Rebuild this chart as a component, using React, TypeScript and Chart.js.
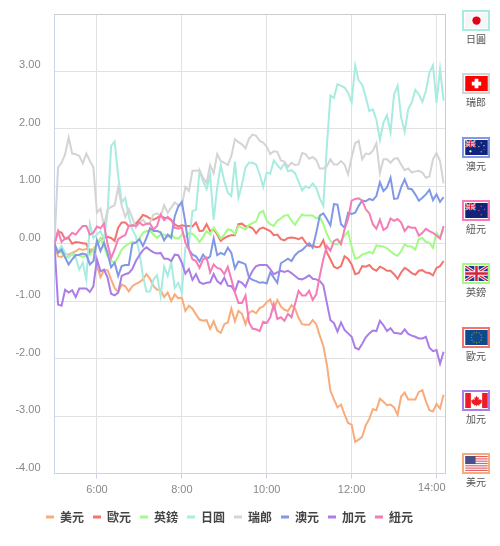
import React, { useEffect, useRef } from "react";
import { Chart, registerables } from "chart.js";

Chart.register(...registerables);

const usd = [
  -0.04,-0.22,-0.23,-0.17,-0.19,-0.16,-0.13,-0.09,-0.11,-0.09,
  -0.10,-0.10,-0.39,-0.58,-0.46,-0.46,-0.62,-0.77,-0.84,-0.71,
  -0.74,-0.83,-0.74,-0.70,-0.67,-0.62,-0.53,-0.61,-0.74,-0.80,
  -0.80,-0.93,-0.85,-1.00,-0.88,-0.95,-0.94,-1.17,-1.08,-1.13,
  -1.23,-1.32,-1.34,-1.33,-1.48,-1.35,-1.51,-1.55,-1.40,-1.37,
  -1.13,-1.35,-1.17,-1.22,-1.40,-1.20,-1.17,-1.21,-1.12,-1.09,
  -1.02,-0.97,-1.14,-0.98,-1.09,-1.15,-1.17,-1.07,-1.13,-1.29,
  -1.40,-1.41,-1.41,-1.33,-1.40,-1.60,-1.78,-2.10,-2.56,-2.71,
  -2.85,-2.80,-2.97,-3.12,-3.15,-3.45,-3.41,-3.36,-3.16,-3.05,
  -2.88,-2.90,-2.70,-2.75,-2.81,-2.80,-2.85,-2.98,-2.66,-2.59,
  -2.71,-2.71,-2.71,-2.58,-2.55,-2.74,-2.90,-2.92,-2.79,-2.87,
  -2.63,
];
const eur = [
  0.00,0.22,0.19,0.08,0.10,0.00,0.03,0.02,0.01,0.00,
  -0.16,-0.10,-0.01,0.08,0.10,0.12,0.10,0.05,0.28,0.37,
  0.37,0.31,0.31,0.35,0.42,0.50,0.48,0.44,0.42,0.45,
  0.49,0.45,0.45,0.41,0.34,0.30,0.32,0.31,0.31,0.30,
  0.37,0.22,0.23,0.34,0.22,0.25,0.16,0.05,0.10,0.13,
  0.15,0.15,0.34,0.35,0.30,0.30,0.27,0.18,0.26,0.28,
  0.25,0.22,0.15,0.16,0.08,0.06,0.10,0.11,0.10,0.08,
  0.11,0.02,-0.04,-0.03,-0.06,-0.05,0.06,-0.15,-0.27,-0.40,
  -0.43,-0.39,-0.22,-0.26,-0.36,-0.53,-0.51,-0.39,-0.40,-0.37,
  -0.44,-0.47,-0.40,-0.43,-0.47,-0.47,-0.53,-0.61,-0.50,-0.42,
  -0.46,-0.51,-0.54,-0.47,-0.46,-0.50,-0.51,-0.55,-0.42,-0.39,
  -0.30,
];
const gbp = [
  -0.01,-0.13,-0.16,-0.22,-0.24,-0.17,-0.19,-0.20,-0.23,-0.20,
  -0.19,-0.10,-0.01,0.10,-0.04,-0.22,-0.30,-0.33,-0.23,-0.10,
  -0.04,0.00,0.03,0.02,0.09,0.19,0.22,0.22,0.16,0.10,
  0.16,0.16,0.12,0.16,0.10,0.09,0.16,0.12,0.19,0.17,
  0.12,0.03,0.12,0.22,0.16,0.28,0.19,0.09,0.16,0.25,
  0.24,0.17,0.31,0.28,0.25,0.33,0.36,0.39,0.54,0.57,
  0.40,0.34,0.31,0.40,0.44,0.49,0.50,0.40,0.33,0.43,
  0.51,0.49,0.49,0.49,0.44,0.46,0.34,0.17,0.05,-0.01,
  -0.01,0.05,0.14,0.21,-0.05,-0.26,-0.24,-0.19,-0.17,-0.14,
  -0.17,-0.03,-0.04,-0.05,-0.08,-0.13,-0.18,-0.21,-0.13,-0.01,
  -0.05,-0.05,-0.10,0.08,0.10,0.03,0.02,-0.07,0.19,0.11,
  0.25,
];
const jpy = [
  -0.01,-0.13,-0.04,-0.16,-0.22,-0.19,-0.24,-0.45,-0.33,-0.62,
  0.35,0.10,0.16,0.22,0.08,0.54,1.70,1.78,1.18,0.72,
  0.80,0.48,0.25,0.13,-0.16,-0.56,-0.83,-0.83,-0.62,-0.55,
  -0.91,-0.40,-0.56,-0.32,-0.77,-0.68,-0.85,-0.07,-0.01,0.57,
  0.59,1.27,1.09,0.95,1.19,0.42,0.98,1.37,1.09,0.89,
  0.83,1.43,0.80,1.03,1.33,1.41,1.41,1.38,1.21,0.99,
  1.24,1.22,1.45,1.37,1.30,1.40,1.26,1.28,1.23,1.08,
  0.93,1.00,0.97,1.05,0.97,0.79,0.66,1.70,2.58,2.54,
  2.78,2.75,2.72,2.63,2.46,3.10,2.84,2.77,2.55,2.31,
  2.34,2.16,1.81,2.11,2.24,1.94,2.60,2.75,2.20,1.95,
  2.34,2.46,2.68,2.60,2.47,2.66,2.98,3.11,2.45,3.04,
  2.49,
];
const chf = [
  0.00,1.33,1.41,1.56,1.85,1.57,1.56,1.53,1.40,1.57,
  1.44,1.33,0.54,0.61,0.31,0.60,0.64,0.67,0.98,0.66,
  0.47,0.60,0.45,0.28,0.37,0.42,0.34,0.37,0.51,0.53,
  0.48,0.67,0.54,0.63,0.72,0.67,0.66,0.99,0.92,1.27,
  1.27,1.28,1.15,1.06,1.37,1.23,1.56,1.44,1.41,1.37,
  1.53,1.82,1.77,1.73,1.66,1.83,1.90,1.88,1.79,1.76,
  1.69,1.56,1.61,1.60,1.45,1.43,1.34,1.41,1.37,1.38,
  1.58,1.56,1.48,1.51,1.46,1.31,1.31,1.35,1.47,1.38,
  1.38,1.44,1.38,1.21,1.50,1.75,1.79,1.47,1.57,1.56,
  1.62,1.75,1.23,1.47,1.47,1.41,1.48,1.49,1.38,1.28,
  1.31,1.24,1.26,1.27,1.24,1.15,1.17,1.47,1.58,1.44,
  1.05,
];
const aud = [
  0.00,-0.16,-0.10,-0.24,-0.36,-0.27,-0.20,-0.19,-0.17,-0.19,
  -0.36,-0.30,0.06,-0.13,0.02,-0.16,-0.41,-0.33,-0.56,-0.39,
  -0.37,-0.37,0.00,0.02,0.08,-0.04,0.10,0.27,0.22,0.22,
  0.20,0.06,0.16,0.10,0.48,0.65,0.73,0.37,-0.10,-0.19,
  -0.22,-0.31,-0.19,-0.27,-0.22,0.09,-0.20,-0.16,-0.19,-0.07,
  -0.16,-0.43,-0.31,-0.33,-0.36,-0.59,-0.63,-0.65,-0.68,-0.67,
  -0.69,-0.50,-0.59,-0.68,-0.34,-0.30,-0.26,-0.30,-0.20,-0.14,
  -0.11,-0.05,0.01,-0.07,0.19,0.49,0.53,0.43,0.32,0.69,
  0.68,0.34,0.28,0.54,0.52,0.54,0.66,0.75,0.74,0.78,
  0.76,0.83,1.07,0.92,0.98,1.15,0.78,0.79,0.98,1.12,
  0.96,0.95,0.86,0.75,0.80,0.86,0.94,0.76,0.86,0.73,
  0.81,
];
const cad = [
  -0.01,-1.06,-1.08,-0.80,-0.85,-0.81,-0.93,-0.78,-0.78,-0.78,
  -0.84,-0.74,-0.27,-0.48,-0.45,-0.59,-0.87,-0.90,-0.85,-0.56,
  -0.53,-0.51,-0.44,-0.30,-0.20,-0.11,-0.06,-0.11,-0.15,-0.17,
  -0.16,-0.26,-0.26,-0.30,-0.19,-0.20,-0.33,-0.52,-0.44,-0.63,
  -0.53,-0.67,-0.70,-0.68,-0.67,-0.53,-0.65,-0.70,-0.59,-0.73,
  -0.74,-0.83,-0.65,-0.68,-0.75,-0.59,-0.47,-0.39,-0.37,-0.37,
  -0.37,-0.44,-0.53,-0.50,-0.47,-0.49,-0.47,-0.51,-0.56,-0.61,
  -0.62,-0.59,-0.55,-0.61,-0.62,-0.65,-0.72,-1.03,-1.33,-1.38,
  -1.53,-1.37,-1.50,-1.56,-1.62,-1.81,-1.84,-1.74,-1.63,-1.56,
  -1.51,-1.52,-1.34,-1.42,-1.52,-1.47,-1.55,-1.56,-1.57,-1.49,
  -1.57,-1.60,-1.62,-1.65,-1.65,-1.62,-1.81,-1.87,-1.85,-2.09,
  -1.88,
];
const nzd = [
  -0.01,0.22,0.03,0.09,0.12,0.19,0.16,0.24,0.31,0.31,
  0.16,0.19,0.30,0.27,0.35,-0.01,-0.25,-0.10,0.08,0.12,
  0.15,0.31,0.32,0.31,0.37,0.32,0.35,0.35,0.25,0.31,
  0.51,0.41,0.47,0.42,0.28,0.26,0.28,0.02,-0.10,-0.27,
  -0.30,-0.42,-0.27,-0.24,-0.50,-0.36,-0.42,-0.44,-0.53,-0.40,
  -0.62,-0.85,-1.03,-1.03,-0.90,-1.37,-1.48,-1.49,-1.52,-1.36,
  -1.38,-1.28,-1.05,-1.31,-1.28,-1.34,-1.22,-1.28,-1.05,-0.82,
  -0.90,-0.90,-0.82,-0.98,-0.88,-0.56,-0.27,-0.04,-0.12,0.05,
  0.08,-0.01,0.25,0.43,0.75,0.78,0.79,0.75,0.60,0.53,
  0.34,0.26,0.42,0.24,0.28,0.44,0.40,0.43,0.37,0.22,
  0.30,0.28,0.28,0.14,0.19,0.26,0.22,0.19,0.14,0.09,
  0.31,
];

const seriesNames = ["美元", "歐元", "英鎊", "日圓", "瑞郎", "澳元", "加元", "紐元"];
const seriesValues = [usd, eur, gbp, jpy, chf, aud, cad, nzd];
const seriesColors = ["#f8ac7b", "#f4736f", "#a2fb85", "#a8ebe0", "#d4d4d4", "#8198e6", "#aa7de8", "#f57cb6"];

const xTicks = [360, 480, 600, 720, 840];
const xStart = 300;
const xStep = 5;
const xEnd = 852;

const flagOrder = ["日圓", "瑞郎", "澳元", "紐元", "英鎊", "歐元", "加元", "美元"];
const flagColors = ["#a8ebe0", "#d4d4d4", "#8198e6", "#f57cb6", "#a2fb85", "#f4736f", "#aa7de8", "#f8ac7b"];

const fmtTime = (m: number) => `${Math.floor(m / 60)}:${String(m % 60).padStart(2, "0")}`;

const frame = {
  id: "frame",
  beforeDatasetsDraw(chart: any) {
    const { ctx, chartArea: a } = chart;
    ctx.save();
    ctx.strokeStyle = "#cccccc";
    ctx.lineWidth = 1;
    ctx.beginPath();
    ctx.moveTo(Math.round(a.right) + 0.5, a.top);
    ctx.lineTo(Math.round(a.right) + 0.5, a.bottom);
    ctx.stroke();
    ctx.restore();
  },
  afterDraw(chart: any) {
    const { ctx, chartArea: a } = chart;
    ctx.save();
    ctx.font = '11px "Liberation Sans"';
    ctx.fillStyle = "#888888";
    ctx.textAlign = "right";
    ctx.textBaseline = "middle";
    ctx.fillText(fmtTime(xTicks[xTicks.length - 1]), a.right + 0.5, 488);
    ctx.restore();
  },
};

const UK = ({ w = 24, h = 16 }: { w?: number; h?: number }) => (
  <g>
    <rect width={w} height={h} fill="#1a3a8f" />
    <path d={`M0 0L${w} ${h}M${w} 0L0 ${h}`} stroke="#fff" strokeWidth={h / 5} />
    <path d={`M0 0L${w} ${h}M${w} 0L0 ${h}`} stroke="#d8213a" strokeWidth={h / 11} />
    <path d={`M${w / 2} 0V${h}M0 ${h / 2}H${w}`} stroke="#fff" strokeWidth={h / 3.5} />
    <path d={`M${w / 2} 0V${h}M0 ${h / 2}H${w}`} stroke="#d8213a" strokeWidth={h / 6} />
  </g>
);

const Dots = ({ pts, fill }: { pts: number[][]; fill: string }) => (
  <g fill={fill}>
    {pts.map((p, i) => (
      <circle key={i} cx={p[0]} cy={p[1]} r={p[2]} />
    ))}
  </g>
);

const Flag = ({ name }: { name: string }) => {
  let body: React.ReactNode = null;
  if (name === "日圓") {
    body = (
      <g>
        <rect width={24} height={16} fill="#f6f6f6" />
        <circle cx={12} cy={8} r={4.4} fill="#e3001b" />
      </g>
    );
  } else if (name === "瑞郎") {
    body = (
      <g>
        <rect width={24} height={16} fill="#ff0000" />
        <path d="M10 3h4v3h3v4h-3v3h-4v-3H7V6h3z" fill="#fff" />
      </g>
    );
  } else if (name === "澳元") {
    body = (
      <g>
        <rect width={24} height={16} fill="#12247a" />
        <svg width={11} height={8} viewBox="0 0 24 16"><UK /></svg>
        <Dots fill="#fff" pts={[[5.5, 12, 1.2], [17, 3, 0.6], [20, 6, 0.6], [17, 12.5, 0.6], [14.5, 7, 0.6], [20, 10, 0.4]]} />
      </g>
    );
  } else if (name === "紐元") {
    body = (
      <g>
        <rect width={24} height={16} fill="#12247a" />
        <svg width={11} height={8} viewBox="0 0 24 16"><UK /></svg>
        <Dots fill="#e0405a" pts={[[17, 3.5, 0.8], [20.5, 7, 0.8], [14.5, 8, 0.8], [17, 12.5, 0.8]]} />
      </g>
    );
  } else if (name === "英鎊") {
    body = <UK />;
  } else if (name === "歐元") {
    body = (
      <g>
        <rect width={24} height={16} fill="#0c4a8e" />
        <Dots
          fill="#b8a93a"
          pts={[[12, 2.5, 0.6], [14.8, 3.2, 0.6], [16.8, 5.2, 0.6], [17.5, 8, 0.6], [16.8, 10.8, 0.6], [14.8, 12.8, 0.6], [12, 13.5, 0.6], [9.2, 12.8, 0.6], [7.2, 10.8, 0.6], [6.5, 8, 0.6], [7.2, 5.2, 0.6], [9.2, 3.2, 0.6]]}
        />
      </g>
    );
  } else if (name === "加元") {
    body = (
      <g>
        <rect width={24} height={16} fill="#fff" />
        <rect width={6} height={16} fill="#ee1c25" />
        <rect x={18} width={6} height={16} fill="#ee1c25" />
        <path d="M12 3l1.3 2 1.3-.5-.5 3 1.9-1 .5 1.2 1.5-.2-.8 2.3.6.5-2.8 1.9.2 1.1-2.6-.4V14h-1v-1.1l-2.6.4.2-1.1-2.8-1.9.6-.5-.8-2.3 1.5.2.5-1.2 1.9 1-.5-3 1.3.5z" fill="#ee1c25" />
      </g>
    );
  } else {
    const stripes = [0, 1, 2, 3, 4, 5, 6];
    body = (
      <g>
        <rect width={24} height={16} fill="#fff" />
        {stripes.map((s) => (
          <rect key={s} y={s * 2.46} width={24} height={1.23} fill="#e0606a" />
        ))}
        <rect width={11} height={8.6} fill="#4a4f8a" />
      </g>
    );
  }
  return (
    <svg width={23} height={15} viewBox="0 0 24 16" style={{ display: "block" }}>
      {body}
    </svg>
  );
};

export default function App() {
  const ref = useRef<HTMLCanvasElement>(null);
  useEffect(() => {
    const chart = new Chart(ref.current!, {
      type: "line",
      data: {
        datasets: seriesNames.map((n, i) => ({
          label: n,
          data: seriesValues[i].map((v, k) => ({ x: xStart + k * xStep, y: v })),
          borderColor: seriesColors[i],
          backgroundColor: seriesColors[i],
          borderWidth: 2,
          pointRadius: 0,
          tension: 0,
          order: seriesNames.length - i,
        })),
      },
      plugins: [frame],
      options: {
        animation: false,
        responsive: false,
        layout: { padding: { top: 14, right: 55, left: 14, bottom: 13 } },
        plugins: {
          tooltip: { enabled: false },
          legend: {
            position: "bottom",
            labels: {
              boxWidth: 8,
              boxHeight: 3,
              padding: 9,
              color: "#444444",
              font: { family: '"Noto Sans CJK TC"', size: 12, weight: "bold" },
              generateLabels: (c: any) =>
                c.data.datasets.map((d: any, i: number) => ({
                  text: d.label,
                  fillStyle: d.borderColor,
                  strokeStyle: d.borderColor,
                  lineWidth: 0,
                  datasetIndex: i,
                  fontColor: "#444444",
                })),
            },
          },
        },
        scales: {
          x: {
            type: "linear",
            min: xStart,
            max: xEnd,
            afterBuildTicks: (s: any) => {
              s.ticks = xTicks.map((v) => ({ value: v }));
            },
            afterFit: (s: any) => {
              s.height = 28.5;
            },
            grid: {
              color: "#e2e2e2",
              tickColor: "#c8d4ea",
              tickLength: 5,
              drawTicks: true,
            },
            border: { color: "#c8d4ea" },
            ticks: {
              autoSkip: false,
              maxRotation: 0,
              color: "#888888",
              padding: 5,
              font: { family: '"Liberation Sans"', size: 11 },
              callback: (v: any) => (v === xTicks[xTicks.length - 1] ? "" : fmtTime(v)),
            },
          },
          y: {
            min: -4,
            max: 4,
            afterFit: (s: any) => {
              s.width = 40.5;
              s.paddingTop = 0;
              s.paddingBottom = 0;
            },
            grid: {
              color: (c: any) => (c.tick && c.tick.value === 4 ? "#cccccc" : "#e2e2e2"),
              drawTicks: false,
            },
            border: { color: "#c8d4ea" },
            ticks: {
              stepSize: 1,
              color: "#888888",
              padding: 14,
              labelOffset: -6,
              font: { family: '"Liberation Sans"', size: 11 },
              callback: (v: any) => (v === 4 ? "" : Number(v).toFixed(2)),
            },
          },
        },
      },
    } as any);
    return () => chart.destroy();
  }, []);

  return (
    <div style={{ position: "absolute", left: 0, top: 0, width: 500, height: 546 }}>
      <canvas ref={ref} width={500} height={546} style={{ display: "block" }} />
      {flagOrder.map((n, i) => (
        <div key={n} style={{ position: "absolute", left: 452, top: 10 + i * 63.3, width: 48, textAlign: "center" }}>
          <div
            style={{
              boxSizing: "border-box",
              width: 28,
              height: 21,
              margin: "0 auto",
              border: `2px solid ${flagColors[i]}`,
              padding: "0 0",
              display: "flex",
              alignItems: "center",
              justifyContent: "center",
              background: "#fff",
            }}
          >
            <Flag name={n} />
          </div>
          <div style={{ font: '10px/14px "Noto Sans CJK TC"', color: "#555", marginTop: 1 }}>{n}</div>
        </div>
      ))}
    </div>
  );
}
